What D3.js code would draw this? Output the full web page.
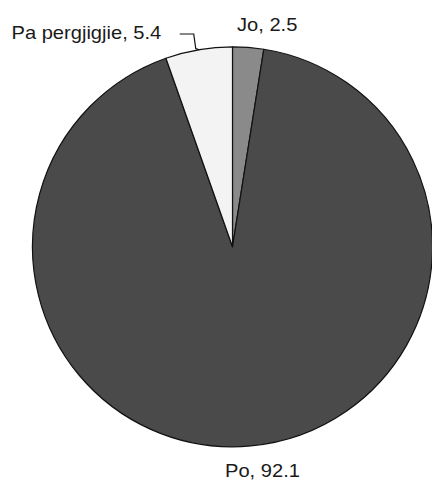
<!DOCTYPE html>
<html>
<head>
<meta charset="utf-8">
<script src="https://cdn.jsdelivr.net/npm/d3@7"></script>
<style>
  html, body { margin: 0; padding: 0; background: #ffffff; }
  svg { display: block; }
  text { font-family: "Liberation Sans", Arial, sans-serif; fill: #1a1a1a; }
</style>
</head>
<body>
<svg id="chart" width="432" height="493"></svg>
<script>
const categories = ["Jo", "Po", "Pa pergjigjie"];
const values = [2.5, 92.1, 5.4];
const labels = ["Jo, 2.5", "Po, 92.1", "Pa pergjigjie, 5.4"];
const colors = ["#8a8a8a", "#4a4a4a", "#f3f3f3"];

const svg = d3.select("#chart");
const cx = 232.5, cy = 246.8, r = 200;
const g = svg.append("g").attr("transform", `translate(${cx},${cy})`);

const pie = d3.pie().sort(null).value(d => d.value);
const data = categories.map((c, i) => ({ cat: c, value: values[i], label: labels[i], color: colors[i] }));
const arcs = pie(data);
const arc = d3.arc().innerRadius(0).outerRadius(r);

g.selectAll("path.slice")
  .data(arcs)
  .enter().append("path")
  .attr("class", "slice")
  .attr("d", arc)
  .attr("fill", d => d.data.color)
  .attr("stroke", "#111")
  .attr("stroke-width", 1.2)
  .attr("stroke-linejoin", "round");

// label positions (absolute coordinates)
const labelPos = {
  "Jo": { x: 237, y: 31 },
  "Po": { x: 225, y: 477 },
  "Pa pergjigjie": { x: 11.5, y: 39 }
};
const sx = 1.15;

arcs.forEach(a => {
  const p = labelPos[a.data.cat];
  svg.append("text")
    .attr("transform", `translate(${p.x},${p.y}) scale(${sx},1)`)
    .attr("font-size", 17.5)
    .text(a.data.label);
});

// leader line for the "Pa pergjigjie" slice
const pa = arcs[2];
const mid = (pa.startAngle + pa.endAngle) / 2;
const p0 = [cx + r * Math.sin(mid), cy - r * Math.cos(mid)];
const pts = [
  p0,
  [p0[0] - 3, p0[1] - 1],
  [p0[0] - 5, 34],
  [p0[0] - 19, 34]
];
svg.append("path")
  .attr("d", d3.line()(pts))
  .attr("fill", "none")
  .attr("stroke", "#111")
  .attr("stroke-width", 1.2);
</script>
</body>
</html>
